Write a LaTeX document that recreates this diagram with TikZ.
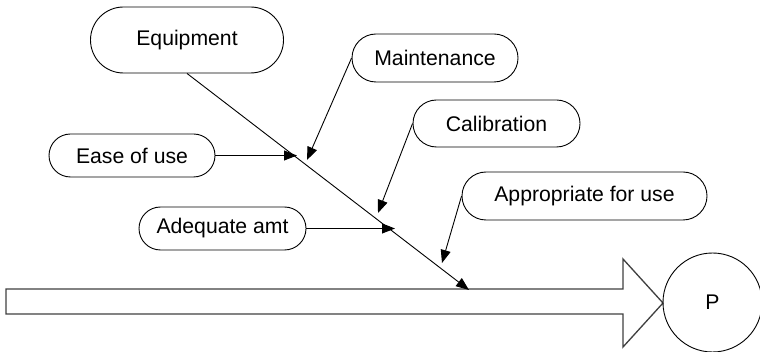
\documentclass[tikz,border=0pt]{standalone}
\usepackage{fontspec}
\setmainfont{Liberation Sans}
\usetikzlibrary{arrows.meta,shapes.misc}
\begin{document}
\begin{tikzpicture}[x=1pt,y=-1pt,
  cause/.style={draw, line width=0.9pt, rounded rectangle, inner sep=0pt,
    font=\fontsize{21.2}{25}\selectfont},
  link/.style={line width=0.9pt, -{Triangle[length=13pt,width=10pt]}},
  spine/.style={draw=black!75, line width=1.3pt, fill=white}]
\useasboundingbox (0,0) rectangle (760,352);

% fish spine drawn as a wide block arrow
\draw[spine] (6,289) -- (623,289) -- (623,259) -- (663,303)
  -- (623,347) -- (623,314) -- (6,314) -- cycle;
\node[draw, line width=0.9pt, circle, minimum size=99pt, inner sep=0pt,
  font=\fontsize{21.2}{25}\selectfont] (p) at (712.5,302.5) {P};

% cause boxes
\node[cause, minimum width=193pt, minimum height=66pt] (equip) at (187,40) {Equipment};
\node[cause, minimum width=166pt, minimum height=48pt] (maint) at (435,58) {Maintenance};
\node[cause, minimum width=167pt, minimum height=47pt] (calib) at (496.5,123.5) {Calibration};
\node[cause, minimum width=245pt, minimum height=48pt] (approp) at (584.5,196) {Appropriate for use};
\node[cause, minimum width=166pt, minimum height=43pt] (ease) at (132,155.5) {Ease of use};
\node[cause, minimum width=167pt, minimum height=43pt] (adeq) at (222.5,228.5) {Adequate amt};

% arrow ends on the main bone
\coordinate (bone) at (469,290);
\coordinate (easeend) at (297,155.5);
\coordinate (maintend) at (307,160);
\coordinate (adeqend) at (395,228.5);
\coordinate (calibend) at (378,213);
\coordinate (appropend) at (442,263);

\draw[link] (equip.south) -- (bone);
\draw[link] (ease.east) -- (easeend);
\draw[link] (adeq.east) -- (adeqend);
\draw[link] (maint.west) -- (maintend);
\draw[link] (calib.west) -- (calibend);
\draw[link] (approp.west) -- (appropend);
\end{tikzpicture}
\end{document}
